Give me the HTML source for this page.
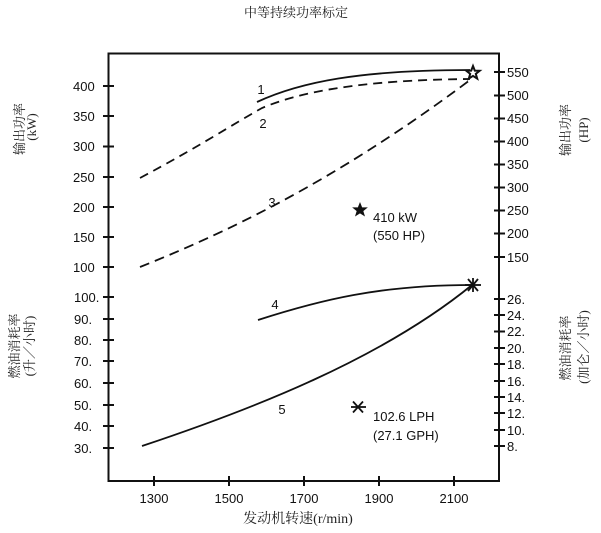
<!DOCTYPE html>
<html><head><meta charset="utf-8"><style>
html,body{margin:0;padding:0;background:#fff;}
svg{display:block;}
.t{font-family:"Liberation Sans",Arial,sans-serif;font-size:13px;fill:#111;}
.c{font-family:"Liberation Serif","Noto Serif CJK SC",serif;font-size:13px;fill:#222;}
</style></head><body>
<svg width="601" height="533" viewBox="0 0 601 533" xmlns="http://www.w3.org/2000/svg">
<rect width="601" height="533" fill="#fff"/>
<text class="c" x="296" y="17" text-anchor="middle">中等持续功率标定</text>
<rect x="108.5" y="53.5" width="390.5" height="427.5" fill="none" stroke="#111" stroke-width="2"/>
<g stroke="#111" stroke-width="2">
<line x1="103" y1="86" x2="114" y2="86"/><line x1="103" y1="116" x2="114" y2="116"/><line x1="103" y1="146.5" x2="114" y2="146.5"/><line x1="103" y1="177" x2="114" y2="177"/><line x1="103" y1="207" x2="114" y2="207"/><line x1="103" y1="237" x2="114" y2="237"/><line x1="103" y1="267" x2="114" y2="267"/>
<line x1="103" y1="297" x2="114" y2="297"/><line x1="103" y1="319" x2="114" y2="319"/><line x1="103" y1="340" x2="114" y2="340"/><line x1="103" y1="361" x2="114" y2="361"/><line x1="103" y1="383" x2="114" y2="383"/><line x1="103" y1="405" x2="114" y2="405"/><line x1="103" y1="426" x2="114" y2="426"/><line x1="103" y1="448" x2="114" y2="448"/>
<line x1="494" y1="72" x2="505" y2="72"/><line x1="494" y1="95.5" x2="505" y2="95.5"/><line x1="494" y1="118.5" x2="505" y2="118.5"/><line x1="494" y1="141.5" x2="505" y2="141.5"/><line x1="494" y1="164.5" x2="505" y2="164.5"/><line x1="494" y1="187.5" x2="505" y2="187.5"/><line x1="494" y1="210.5" x2="505" y2="210.5"/><line x1="494" y1="233.5" x2="505" y2="233.5"/><line x1="494" y1="257" x2="505" y2="257"/>
<line x1="494" y1="299" x2="505" y2="299"/><line x1="494" y1="315" x2="505" y2="315"/><line x1="494" y1="331.5" x2="505" y2="331.5"/><line x1="494" y1="348" x2="505" y2="348"/><line x1="494" y1="364" x2="505" y2="364"/><line x1="494" y1="381" x2="505" y2="381"/><line x1="494" y1="397" x2="505" y2="397"/><line x1="494" y1="413" x2="505" y2="413"/><line x1="494" y1="430" x2="505" y2="430"/><line x1="494" y1="446" x2="505" y2="446"/>
<line x1="154" y1="476" x2="154" y2="486"/><line x1="229" y1="476" x2="229" y2="486"/><line x1="304" y1="476" x2="304" y2="486"/><line x1="379" y1="476" x2="379" y2="486"/><line x1="454" y1="476" x2="454" y2="486"/>
</g>
<g class="t">
<text x="73" y="91">400</text><text x="73" y="121">350</text><text x="73" y="151">300</text><text x="73" y="182">250</text><text x="73" y="212">200</text><text x="73" y="242">150</text><text x="73" y="272">100</text>
<text x="74" y="302">100.</text><text x="74" y="324">90.</text><text x="74" y="345">80.</text><text x="74" y="366">70.</text><text x="74" y="388">60.</text><text x="74" y="410">50.</text><text x="74" y="431">40.</text><text x="74" y="453">30.</text>
<text x="507" y="77">550</text><text x="507" y="100">500</text><text x="507" y="123">450</text><text x="507" y="146">400</text><text x="507" y="169">350</text><text x="507" y="192">300</text><text x="507" y="215">250</text><text x="507" y="238">200</text><text x="507" y="262">150</text>
<text x="507" y="304">26.</text><text x="507" y="320">24.</text><text x="507" y="336">22.</text><text x="507" y="353">20.</text><text x="507" y="369">18.</text><text x="507" y="386">16.</text><text x="507" y="402">14.</text><text x="507" y="418">12.</text><text x="507" y="435">10.</text><text x="507" y="451">8.</text>
<text x="154" y="503" text-anchor="middle">1300</text><text x="229" y="503" text-anchor="middle">1500</text><text x="304" y="503" text-anchor="middle">1700</text><text x="379" y="503" text-anchor="middle">1900</text><text x="454" y="503" text-anchor="middle">2100</text>
<text x="261" y="94" text-anchor="middle">1</text><text x="263" y="128" text-anchor="middle">2</text><text x="272" y="207" text-anchor="middle">3</text><text x="275" y="309" text-anchor="middle">4</text><text x="282" y="414" text-anchor="middle">5</text>
<text x="373" y="222">410 kW</text><text x="373" y="240">(550 HP)</text>
<text x="373" y="421">102.6 LPH</text><text x="373" y="440">(27.1 GPH)</text>
</g>
<text class="c" x="298" y="523" text-anchor="middle" style="font-size:14px">发动机转速(r/min)</text>
<g class="c">
<text transform="translate(24,129) rotate(-90)" text-anchor="middle">输出功率</text>
<text transform="translate(36,127) rotate(-90)" text-anchor="middle">(kW)</text>
<text transform="translate(19,346) rotate(-90)" text-anchor="middle">燃油消耗率</text>
<text transform="translate(34,346) rotate(-90)" text-anchor="middle">(升／小时)</text>
<text transform="translate(570,130) rotate(-90)" text-anchor="middle">输出功率</text>
<text transform="translate(588,130) rotate(-90)" text-anchor="middle">(HP)</text>
<text transform="translate(570,348) rotate(-90)" text-anchor="middle">燃油消耗率</text>
<text transform="translate(588,347) rotate(-90)" text-anchor="middle">(加仑／小时)</text>
</g>
<g fill="none" stroke="#111" stroke-width="1.8">
<path d="M257,102 C300,82 360,70 470,70"/>
<path d="M140,178 C200,146 230,126 262,108 C300,92 360,80 470,79" stroke-dasharray="9,6"/>
<path d="M140,267 C220,235 330,185 470,80" stroke-dasharray="10,6"/>
<path d="M258,320 C320,300 380,285 472,285"/>
<path d="M142,446 C250,410 380,360 472,285"/>
</g>
<polygon points="473,66 474.8,70.6 479.7,70.8 475.8,73.9 477.2,78.6 473,75.9 468.8,78.6 470.2,73.9 466.3,70.8 471.2,70.6" fill="#fff" stroke="#111" stroke-width="2"/>
<polygon points="360,204 361.6,208 365.8,208.1 362.5,210.8 363.7,214.8 360,212.5 356.3,214.8 357.5,210.8 354.2,208.1 358.4,208" fill="#111" stroke="#111" stroke-width="1.5"/>
<g stroke="#111" stroke-width="1.8">
<line x1="465" y1="285" x2="481" y2="285"/><line x1="468" y1="279" x2="478" y2="291"/><line x1="468" y1="291" x2="478" y2="279"/><line x1="473" y1="278" x2="473" y2="292"/>
<line x1="351" y1="407" x2="366" y2="407"/><line x1="353" y1="401.5" x2="363" y2="412.5"/><line x1="353" y1="412.5" x2="363" y2="401.5"/>
</g>
</svg>
</body></html>
